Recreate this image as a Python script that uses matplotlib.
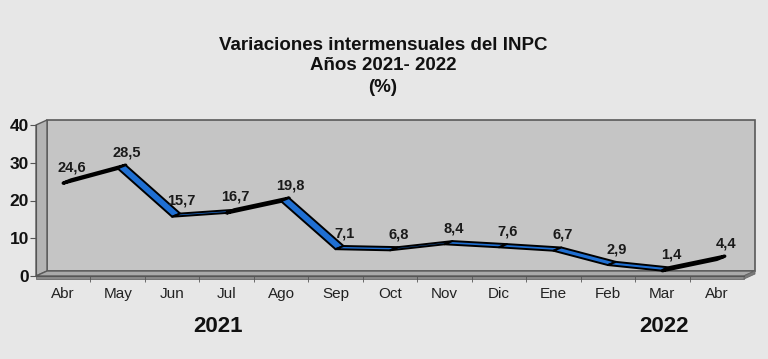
import matplotlib
matplotlib.use("Agg")
import matplotlib.pyplot as plt
from matplotlib.patches import Polygon
from matplotlib.transforms import IdentityTransform
import numpy as np

months = ["Abr", "May", "Jun", "Jul", "Ago", "Sep", "Oct", "Nov", "Dic", "Ene", "Feb", "Mar", "Abr"]
values = [24.6, 28.5, 15.7, 16.7, 19.8, 7.1, 6.8, 8.4, 7.6, 6.7, 2.9, 1.4, 4.4]
value_labels = ["24,6", "28,5", "15,7", "16,7", "19,8", "7,1", "6,8", "8,4", "7,6", "6,7", "2,9", "1,4", "4,4"]
yticks = [0, 10, 20, 30, 40]
years = ["2021", "2022"]
title_lines = ["Variaciones intermensuales del INPC", "Años 2021- 2022", "(%)"]

W, H = 768, 359
DPI = 100
plt.rcParams['font.family'] = ['Liberation Sans', 'DejaVu Sans']

fig = plt.figure(figsize=(W / DPI, H / DPI), dpi=DPI)
fig.patch.set_facecolor("#e7e7e7")

# axes: x 36..744 px, y 125..276 px (from top)
ax = fig.add_axes([36 / W, (H - 276) / H, (744 - 36) / W, (276 - 125) / H])
ax.set_zorder(10)
ax.set_xlim(-0.5, len(months) - 0.5)
ax.set_ylim(0, 40)
ax.patch.set_visible(False)

x = np.arange(len(months))
ident = IdentityTransform()

def disp(pts):
    return ax.transAxes.transform(pts)

WD = np.array([11.0, 5.0])  # wall depth in px
front = disp([[0, 0], [1, 0], [1, 1], [0, 1]])
bl, br, tr, tl = front

# back wall
wall = Polygon([bl + WD, br + WD, tr + WD, tl + WD], closed=True, transform=ident,
               facecolor="#c5c5c5", edgecolor="#5a5a5a", lw=1.2, zorder=0.5)
fig.add_artist(wall)
# left side wall
side = Polygon([bl, tl, tl + WD, bl + WD], closed=True, transform=ident,
               facecolor="#b4b4b4", edgecolor="#5a5a5a", lw=1.0, zorder=0.6)
fig.add_artist(side)
# floor
floor = Polygon([bl, br, br + WD, bl + WD], closed=True, transform=ident,
                facecolor="#a9a9a9", edgecolor="#5a5a5a", lw=1.0, zorder=0.7)
fig.add_artist(floor)
# floor thickness
thick = np.array([0.0, -3.0])
floor_front = Polygon([bl, br, br + thick, bl + thick], closed=True, transform=ident,
                      facecolor="#8a8a8a", edgecolor="#6a6a6a", lw=0.6, zorder=0.7)
fig.add_artist(floor_front)
floor_side = Polygon([br, br + WD, br + WD + thick, br + thick], closed=True, transform=ident,
                     facecolor="#7a7a7a", edgecolor="#6a6a6a", lw=0.6, zorder=0.7)
fig.add_artist(floor_side)

# ribbon line
RD = np.array([8.0, 3.2])      # drawn depth of the ribbon
LIGHT = np.array([8.0, 1.4])   # direction deciding which face is seen
pts = ax.transData.transform(np.column_stack([x, values]))
for i in range(len(pts) - 1):
    p, q = pts[i], pts[i + 1]
    s = q - p
    cross = s[0] * LIGHT[1] - s[1] * LIGHT[0]
    if cross > 0:
        fc, lw = "#1f6fd2", 1.4
    else:
        fc, lw = "#0a0a0a", 2.4
    poly = Polygon([p, q, q + RD, p + RD], closed=True, transform=ident,
                   facecolor=fc, edgecolor="#000000", lw=lw, joinstyle="round", zorder=3)
    fig.add_artist(poly)

# data labels
for xi, v, lab in zip(x, values, value_labels):
    ax.annotate(lab, (xi, v), xytext=(9, 16), textcoords="offset pixels",
                ha="center", va="center", fontsize=10.5, fontweight="bold",
                color="#1a1a1a", zorder=5, annotation_clip=False)

# axes styling
for sp in ["top", "right"]:
    ax.spines[sp].set_visible(False)
ax.spines["left"].set_color("#555555")
ax.spines["bottom"].set_color("#555555")
ax.set_yticks(yticks)
ax.set_yticklabels([str(t) for t in yticks], fontsize=12.5, fontweight="bold", color="#111111")
ax.tick_params(axis="y", direction="out", length=4, color="#555555", pad=1)
ax.set_xticks(x)
ax.set_xticklabels(months, fontsize=11, color="#222222")
ax.tick_params(axis="x", which="major", length=0, pad=8)
ax.set_xticks(x[:-1] + 0.5, minor=True)
ax.tick_params(axis="x", which="minor", direction="out", length=4, color="#555555")

# years
fig.text(218 / W, 1 - 326 / H, years[0], ha="center", va="center", fontsize=16, fontweight="bold", color="#111111")
fig.text(664 / W, 1 - 326 / H, years[1], ha="center", va="center", fontsize=16, fontweight="bold", color="#111111")

# title
for yy, t in zip([45, 66, 87], title_lines):
    fig.text(383 / W, 1 - yy / H, t, ha="center", va="center", fontsize=13.5, fontweight="bold", color="#111111")

fig.savefig("out.png", dpi=DPI, facecolor=fig.get_facecolor())
